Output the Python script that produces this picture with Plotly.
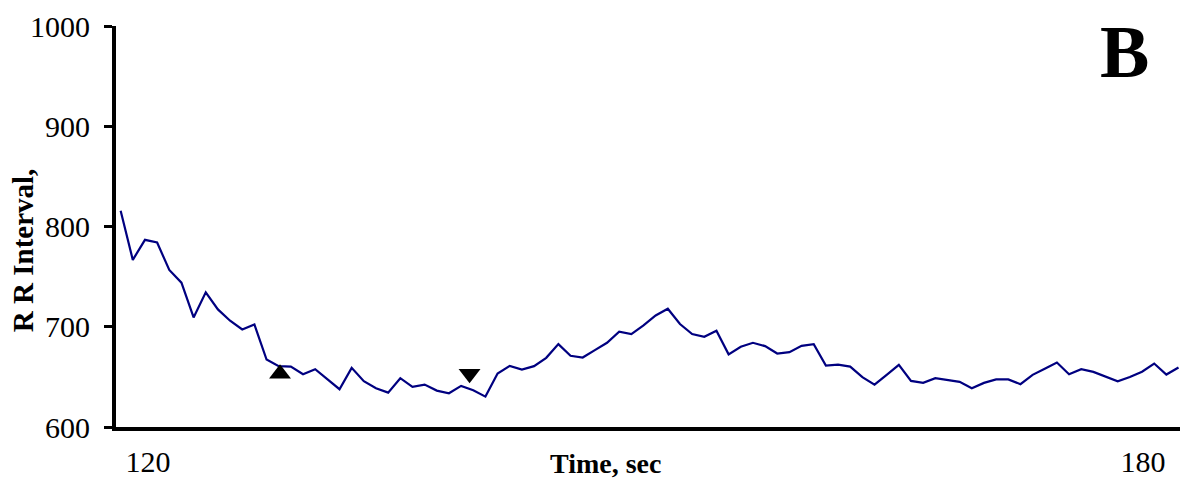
import numpy as np
import plotly.graph_objects as go

# R-R interval values (ms), one per beat
rr_ms = [815.7, 766.7, 786.7, 784.0, 756.7, 744.0, 709.3, 734.3, 717.3, 706.0,
         697.3, 702.3, 667.3, 660.7, 660.3, 652.7, 657.7, 647.7, 637.7, 659.0,
         645.7, 638.7, 634.3, 648.7, 640.0, 642.3, 636.3, 633.7, 641.0, 636.7,
         630.3, 653.3, 661.0, 657.3, 660.7, 669.0, 682.7, 671.0, 669.3, 676.7,
         684.0, 695.0, 692.7, 701.3, 711.3, 718.0, 702.7, 692.7, 690.0, 696.0,
         672.5, 680.0, 684.0, 680.7, 673.3, 674.7, 681.0, 682.7, 661.3, 662.3,
         660.3, 649.7, 642.3, 652.0, 662.0, 646.0, 644.0, 648.7, 647.0, 645.0,
         638.7, 644.0, 647.5, 647.5, 642.7, 652.0, 658.0, 664.3, 652.7, 657.7,
         655.0, 650.0, 645.5, 649.8, 655.2, 663.3, 652.3, 659.3]

# time span of the record (sec), beats evenly spaced along it
t_first = 118.35
t_last = 182.14
time_s = np.linspace(t_first, t_last, len(rr_ms))

# event markers (start / end)
event_up_time = [127.96]
event_up_rr = [653]
event_down_time = [139.39]
event_down_rr = [653]

x_tick_vals = [120, 180]
x_tick_text = ["120", "180"]
y_tick_vals = [600, 700, 800, 900, 1000]

SERIF = "Liberation Serif, Times New Roman, serif"

fig = go.Figure()
fig.add_trace(go.Scatter(x=time_s, y=rr_ms, mode="lines",
                         line=dict(color="#000080", width=2.2),
                         showlegend=False, hoverinfo="skip"))
fig.add_trace(go.Scatter(x=event_up_time, y=event_up_rr, mode="markers",
                         marker=dict(symbol="triangle-up", size=19, color="black"),
                         showlegend=False))
fig.add_trace(go.Scatter(x=event_down_time, y=event_down_rr, mode="markers",
                         marker=dict(symbol="triangle-down", size=19, color="black"),
                         showlegend=False))

fig.update_layout(
    width=1180, height=478,
    margin=dict(l=116, r=0, t=26, b=51),
    paper_bgcolor="white", plot_bgcolor="white",
    font=dict(family=SERIF, size=30, color="black"),
    xaxis=dict(range=[118.07, 182.23], showgrid=False, zeroline=False,
               showline=True, linecolor="black", linewidth=4,
               tickmode="array", tickvals=x_tick_vals, ticktext=x_tick_text,
               ticks="", ticklabelstandoff=5, automargin=False,
               tickfont=dict(family=SERIF, size=30, color="black")),
    yaxis=dict(range=[600, 1000], showgrid=False, zeroline=False,
               showline=True, linecolor="black", linewidth=4,
               tickmode="array", tickvals=y_tick_vals,
               ticks="outside", ticklen=8, tickwidth=3, tickcolor="black",
               ticklabelstandoff=8, automargin=False,
               tickfont=dict(family=SERIF, size=30, color="black")),
    annotations=[
        dict(text="<b>Time, sec</b>", xref="paper", yref="paper",
             x=0.4596, y=-0.092, xanchor="center", yanchor="middle",
             showarrow=False, font=dict(family=SERIF, size=28, color="black")),
        dict(text="<b>R R Interval,</b>", xref="paper", yref="paper",
             x=-0.0874, y=0.441, xanchor="center", yanchor="middle",
             textangle=-90, showarrow=False,
             font=dict(family=SERIF, size=29, color="black")),
        dict(text="<b>B</b>", xref="paper", yref="paper",
             x=0.948, y=0.935, xanchor="center", yanchor="middle",
             showarrow=False, font=dict(family=SERIF, size=74, color="black")),
    ],
)

fig.write_html(
    "out.html",
    config={"displayModeBar": False},
    post_script="document.body.style.margin='0';document.body.style.overflow='hidden';",
)
